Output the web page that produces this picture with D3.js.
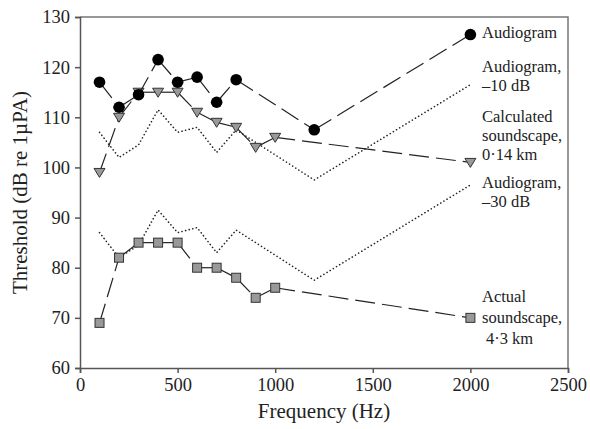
<!DOCTYPE html>
<html>
<head>
<meta charset="utf-8">
<script src="https://cdn.jsdelivr.net/npm/d3@7"></script>
<style>
  body { margin: 0; background: #fff; }
  text { font-family: "Liberation Serif", "Times New Roman", serif; fill: #222; }
</style>
</head>
<body>
<div id="chart"></div>
<script>
// data
const freqAudio = [100, 200, 300, 400, 500, 600, 700, 800, 1200, 2000];
const audiogram = [117, 112, 114.5, 121.5, 117, 118, 113, 117.5, 107.5, 126.5];
const audiogram10 = [107, 102, 104.5, 111.5, 107, 108, 103, 107.5, 97.5, 116.5];
const audiogram30 = [87, 82, 84.5, 91.5, 87, 88, 83, 87.5, 77.5, 96.5];

const freqScape = [100, 200, 300, 400, 500, 600, 700, 800, 900, 1000, 2000];
const calculated = [99, 110, 115, 115, 115, 111, 109, 108, 104, 106, 101];
const actual = [69, 82, 85, 85, 85, 80, 80, 78, 74, 76, 70];

const xTicks = [0, 500, 1000, 1500, 2000, 2500];
const yTicks = [60, 70, 80, 90, 100, 110, 120, 130];

const width = 590, height = 429;
const margin = { top: 17, right: 22, bottom: 61, left: 80 };

const svg = d3.select("#chart").append("svg")
  .attr("width", width)
  .attr("height", height);

const x = d3.scaleLinear().domain([0, 2500]).range([margin.left, width - margin.right]);
const y = d3.scaleLinear().domain([60, 130]).range([height - margin.bottom, margin.top]);

// frame top + right
svg.append("path")
  .attr("d", `M${x(0)},${y(130)}H${x(2500)}V${y(60)}`)
  .attr("fill", "none")
  .attr("stroke", "#777")
  .attr("stroke-width", 1.5);

const xAxis = svg.append("g")
  .attr("transform", `translate(0,${y(60)})`)
  .call(d3.axisBottom(x).tickValues(xTicks).tickSize(5).tickPadding(5).tickFormat(d3.format("d")));
const yAxis = svg.append("g")
  .attr("transform", `translate(${x(0)},0)`)
  .call(d3.axisLeft(y).tickValues(yTicks).tickSize(5).tickPadding(5));

[xAxis, yAxis].forEach(a => {
  a.select(".domain").attr("stroke", "#555").attr("stroke-width", 1.5);
  a.selectAll(".tick line").attr("stroke", "#555").attr("stroke-width", 1.5);
  a.selectAll("text").style("font-family", "Liberation Serif").style("font-size", "18.5px").attr("fill", "#222");
});

// axis titles
svg.append("text")
  .attr("x", x(1250)).attr("y", 418)
  .attr("text-anchor", "middle")
  .style("font-size", "21px")
  .text("Frequency (Hz)");
svg.append("text")
  .attr("transform", `translate(27,${y(95)}) rotate(-90)`)
  .attr("text-anchor", "middle")
  .style("font-size", "21px")
  .text("Threshold (dB re 1µPA)");

const line = d3.line().x(d => x(d[0])).y(d => y(d[1]));
const zip = (xs, ys) => xs.map((v, i) => [v, ys[i]]);

// dotted shifted audiograms
[audiogram10, audiogram30].forEach(vals => {
  svg.append("path")
    .datum(zip(freqAudio, vals))
    .attr("d", line)
    .attr("fill", "none")
    .attr("stroke", "#222")
    .attr("stroke-width", 1.6)
    .attr("stroke-linecap", "round")
    .attr("stroke-dasharray", "0.1,3.6");
});

// dashed series with markers
const series = [
  { xs: freqScape, ys: calculated, shape: "tri" },
  { xs: freqScape, ys: actual, shape: "sq" },
  { xs: freqAudio, ys: audiogram, shape: "dot" }
];

series.forEach(s => {
  const pts = zip(s.xs, s.ys);
  // each segment draws its own dash pattern so short ones look solid
  for (let i = 0; i < pts.length - 1; i++) {
    svg.append("path")
      .datum([pts[i], pts[i + 1]])
      .attr("d", line)
      .attr("fill", "none")
      .attr("stroke", "#222")
      .attr("stroke-width", 1.2)
      .attr("stroke-dasharray", "20,7");
  }
  const g = svg.append("g").selectAll("g")
    .data(pts)
    .join("g")
    .attr("transform", d => `translate(${x(d[0])},${y(d[1])})`);
  if (s.shape === "dot") {
    g.append("circle").attr("r", 5.8).attr("fill", "#000");
  } else if (s.shape === "tri") {
    g.append("path").attr("d", "M-5.5,-4L5.5,-4L0,5Z")
      .attr("fill", "#999").attr("stroke", "#333").attr("stroke-width", 1);
  } else {
    g.append("rect").attr("x", -4.5).attr("y", -4.5).attr("width", 9).attr("height", 9)
      .attr("fill", "#999").attr("stroke", "#333").attr("stroke-width", 1);
  }
});

// series labels
const labels = [
  { lines: ["Audiogram"], y0: 38, step: 19 },
  { lines: ["Audiogram,", "\u201310 dB"], y0: 72, step: 19 },
  { lines: ["Calculated", "soundscape,", "0\u00b714 km"], y0: 122, step: 19 },
  { lines: ["Audiogram,", "\u201330 dB"], y0: 188, step: 19 },
  { lines: ["Actual", "soundscape,", " 4\u00b73 km"], y0: 302, step: 21 }
];
labels.forEach(l => {
  const t = svg.append("text")
    .attr("x", 482)
    .attr("y", l.y0)
    .style("font-size", "16.5px");
  l.lines.forEach((s, i) => {
    t.append("tspan")
      .attr("x", s.startsWith(" ") ? 486 : 482)
      .attr("dy", i === 0 ? 0 : l.step)
      .text(s.trim());
  });
});
</script>
</body>
</html>
